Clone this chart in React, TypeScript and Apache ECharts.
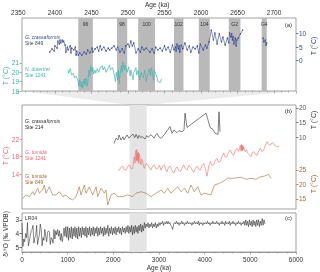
import React, { useEffect, useRef } from "react";
import * as echarts from "echarts";

// ---------- data ----------
const misLabels = ["96", "98", "100", "102", "104", "G2", "G4"];
const misStart = [2432, 2485, 2514, 2563, 2597, 2638, 2683];
const misEnd = [2452, 2499, 2537, 2576, 2612, 2654, 2690];

const zoomRange = [2355, 2730];

// Panel (a): G. crassaformis Site 849 (age ka, T °C)
const crass849 = [
  [2393, 3.1], [2396, 4.3], [2399, 3.5], [2400, 5.4], [2403, 4.6], [2404, 7.2], [2406, 6.1], [2407, 7.6],
  [2408, 6.5], [2410, 7.6], [2411, 6.9], [2412, 7.2], [2414, 5.7], [2415, 3.1], [2417, 5.0], [2418, 3.9],
  [2421, 5.4], [2422, 2.8], [2423, 4.6], [2426, 3.9], [2428, 5.0], [2429, 2.0], [2430, 3.5], [2432, 2.0],
  [2434, 2.8], [2437, 2.0], [2440, 3.1], [2443, 2.4], [2445, 3.9], [2448, 2.8], [2451, 4.6], [2452, 3.1],
  [2455, 4.3], [2458, 5.0], [2460, 3.5], [2462, 5.4], [2464, 3.9], [2467, 5.0], [2470, 3.5], [2473, 4.6],
  [2475, 3.9], [2478, 4.6], [2481, 5.4], [2484, 3.9], [2486, 5.0], [2489, 3.1], [2492, 4.3], [2495, 2.8],
  [2497, 5.4], [2500, 6.1], [2502, 5.0], [2504, 7.2], [2506, 5.4], [2508, 6.5], [2511, 2.8], [2514, 4.3],
  [2517, 3.1], [2519, 5.0], [2522, 3.9], [2525, 4.6], [2530, 3.1], [2533, 4.3], [2536, 2.8], [2538, 5.0],
  [2541, 3.9], [2544, 4.6], [2547, 3.5], [2550, 5.4], [2552, 3.9], [2555, 5.0], [2558, 3.1], [2561, 5.7],
  [2563, 3.9], [2565, 5.0], [2566, 3.5], [2567, 6.1], [2569, 4.3], [2570, 5.4], [2571, 3.1], [2573, 5.7],
  [2575, 4.3], [2578, 6.5], [2581, 3.9], [2584, 5.4], [2586, 3.1], [2589, 5.0], [2592, 4.3], [2595, 5.4],
  [2597, 2.8], [2599, 6.1], [2603, 3.9], [2606, 5.7], [2608, 4.6], [2611, 6.9], [2614, 11.3], [2617, 7.6],
  [2619, 10.2], [2622, 6.1], [2625, 9.9], [2628, 6.9], [2630, 8.7], [2633, 5.7], [2636, 8.3], [2638, 6.5],
  [2639, 10.2], [2641, 8.7], [2642, 9.9], [2643, 7.6], [2644, 8.9], [2645, 6.1], [2647, 8.3], [2648, 5.4],
  [2649, 7.6], [2651, 8.3], [2654, 9.9], [2657, 11.3], [2670, null], [2685, 8.3], [2686, 6.9], [2688, 7.6],
  [2689, 5.7], [2690, 6.5],
];

// Panel (a): N. dutertrei Site 1241
const dutertrei1241 = [
  [2418, 20.25], [2419, 19.9], [2421, 20.4], [2423, 19.7], [2425, 19.9], [2427, 19.4], [2429, 19.6],
  [2432, 19.0], [2433, 18.5], [2434, 19.2], [2436, 18.4], [2437, 19.0], [2438, 18.3], [2440, 19.3],
  [2441, 18.6], [2443, 19.4], [2444, 18.5], [2445, 18.9], [2447, 20.25], [2448, 19.6], [2449, 20.7],
  [2451, 20.0], [2452, 20.5], [2453, 19.8], [2455, 20.25], [2456, 19.9], [2458, 20.4], [2460, 20.0],
  [2462, 20.5], [2465, 20.7], [2466, 20.25], [2468, 20.6], [2470, 20.0], [2473, 20.5], [2475, 20.8],
  [2476, 20.25], [2479, 20.5], [2481, 19.8], [2483, 19.0], [2484, 20.0], [2486, 19.2], [2487, 20.25],
  [2488, 18.75], [2489, 19.7], [2491, 20.7], [2492, 20.0], [2493, 21.1], [2495, 20.25], [2496, 20.8],
  [2499, 20.0], [2501, 20.6], [2503, 19.6], [2504, 20.25], [2507, 19.2], [2508, 20.0], [2511, 20.5],
  [2512, 19.7], [2514, 20.25], [2516, 19.2], [2518, 20.0], [2521, 19.4], [2523, 20.25], [2525, 19.0],
  [2527, 19.8], [2529, 20.4], [2531, 19.6], [2532, 20.5], [2535, 19.2], [2536, 20.25], [2540, 19.4],
  [2541, 19.0], [2544, 18.9], [2546, 19.3],
];

// Panel (b): G. crassaformis Site 214
const crass214 = [
  [2015, 7.8], [2059, 9.6], [2102, 9.0], [2124, 10.7], [2168, 9.0], [2212, 10.1], [2234, 9.0], [2300, 10.7],
  [2343, 9.6], [2387, 10.4], [2431, 11.0], [2470, 9.8], [2497, 10.9], [2540, 9.5], [2562, 10.6], [2600, 9.8],
  [2628, 10.2], [2694, 9.3], [2730, 10.5], [2759, 9.9], [2825, 10.8], [2891, 9.6], [2930, 10.7], [2957, 11.2],
  [3000, 10.0], [3044, 9.55], [3110, 10.7], [3197, 12.6], [3241, 13.6], [3285, 11.3], [3329, 12.4],
  [3395, 11.5], [3438, 12.2], [3504, 11.8], [3548, 12.4], [3570, 18.2], [3614, 13.3], [4030, 18.2],
  [4073, 15.9], [4117, 13.3], [4183, 12.6], [4227, 11.3], [4292, 10.9], [4314, 18.7], [4336, 11.8],
  [4350, 11.8],
];

// Panel (b): G. tumida Site 1241
const tumida1241 = [
  [2102, 14.9], [2131, 14.9], [2170, 15.6], [2205, 15.8], [2240, 15.0], [2278, 14.9], [2315, 15.7],
  [2350, 16.1], [2390, 15.2], [2424, 15.3], [2445, 16.8], [2460, 18.0], [2475, 16.5], [2490, 19.2],
  [2497, 19.5], [2505, 17.2], [2512, 19.6], [2519, 16.9], [2526, 18.5], [2533, 18.8], [2540, 17.0],
  [2548, 19.0], [2555, 16.4], [2566, 18.6], [2577, 18.3], [2590, 16.8], [2606, 16.1], [2625, 17.4],
  [2643, 16.9], [2660, 15.8], [2679, 15.3], [2715, 16.4], [2752, 16.1], [2790, 15.4], [2825, 14.9],
  [2860, 15.8], [2898, 16.1], [2935, 15.2], [2971, 15.3], [3010, 16.0], [3044, 14.9], [3080, 15.8],
  [3117, 16.1], [3150, 15.0], [3176, 14.5], [3210, 15.6], [3248, 15.8], [3285, 14.8], [3322, 14.2],
  [3360, 15.2], [3395, 15.6], [3430, 14.9], [3467, 14.5], [3505, 15.4], [3540, 16.1], [3580, 15.2],
  [3614, 14.9], [3650, 16.0], [3687, 15.6], [3725, 15.0], [3760, 14.4], [3800, 15.4], [3833, 15.8],
  [3870, 15.1], [3905, 14.9], [3940, 15.9], [3979, 16.4], [4015, 15.2], [4052, 13.5], [4090, 15.8],
  [4124, 16.9], [4160, 16.0], [4198, 16.1], [4235, 17.2], [4271, 17.6], [4305, 16.7], [4343, 16.9],
  [4380, 18.0], [4417, 18.8], [4450, 17.9], [4490, 18.0], [4525, 19.0], [4562, 19.5], [4600, 18.6],
  [4636, 18.3], [4670, 19.4], [4709, 19.9], [4745, 19.2], [4781, 20.6], [4795, 19.2], [4805, 20.8],
  [4812, 19.5], [4818, 20.4], [4826, 19.3], [4835, 20.6], [4845, 19.6], [4855, 20.2], [4870, 19.4],
  [4891, 19.1], [4915, 19.6], [4943, 18.8], [4980, 18.4], [5015, 18.0], [5045, 18.9], [5074, 19.1],
  [5110, 18.5], [5146, 18.3], [5180, 19.2], [5219, 19.9], [5255, 19.1], [5293, 19.5], [5330, 20.6],
  [5366, 21.4], [5400, 20.8], [5438, 20.6], [5475, 21.2], [5512, 21.0], [5550, 20.4], [5585, 20.2],
  [5635, 20.4],
];

// Panel (b): G. tumida Site 849
const tumida849 = [
  [15, 15.2], [88, 16.4], [160, 15.8], [234, 17.5], [269, 16.4], [344, 18.7], [379, 17.0], [453, 18.1],
  [488, 19.8], [526, 17.0], [598, 19.2], [672, 16.4], [745, 16.4], [817, 17.5], [891, 15.8], [964, 16.4],
  [1036, 15.2], [1110, 14.7], [1183, 15.8], [1255, 19.2], [1292, 16.4], [1364, 19.8], [1402, 17.0],
  [1474, 19.2], [1548, 16.4], [1621, 19.2], [1658, 15.8], [1730, 18.7], [1802, 17.0], [1840, 18.1],
  [1877, 12.9], [1949, 16.4], [2021, 17.0], [2096, 15.8], [2205, 15.8], [2315, 16.4], [2424, 15.8],
  [2497, 17.0], [2606, 17.5], [2716, 17.0], [2825, 15.8], [2935, 17.0], [3044, 18.1], [3116, 17.0],
  [3191, 18.7], [3263, 17.0], [3335, 18.1], [3410, 19.2], [3482, 17.5], [3554, 18.7], [3629, 17.0],
  [3701, 19.8], [3773, 17.5], [3848, 19.2], [3920, 16.4], [3992, 17.0], [4139, 16.4], [4211, 19.8],
  [4321, 20.4], [4402, 21.0], [4505, 22.2], [4614, 22.1], [4796, 22.5], [4906, 21.8], [5015, 22.1],
  [5125, 21.8], [5197, 22.5], [5306, 22.9], [5394, 23.5], [5453, 22.1],
];

// Panel (c): LR04 benthic d18O, sampled every 20 ka from 0 ka
const lr04Start = 0;
const lr04Step = 20;
const lr04Values = [
  3.23, 4.95, 4.4, 4.6, 4.0, 4.3, 3.2, 4.9, 4.6, 4.2,
  3.8, 3.7, 3.4, 4.7, 4.3, 4.2, 3.4, 4.8, 4.4, 4.1,
  3.3, 3.7, 4.9, 4.3, 4.5, 3.7, 4.2, 4.6, 3.9, 3.8,
  3.9, 4.8, 4.3, 4.4, 4.7, 3.7, 4.4, 3.8, 4.1, 3.7,
  4.2, 3.8, 4.5, 4.0, 4.6, 4.2, 3.6, 4.2, 3.5, 4.3,
  3.5, 4.5, 3.6, 4.3, 3.5, 4.4, 3.6, 4.2, 3.5, 4.3,
  3.6, 4.4, 3.5, 4.2, 3.6, 4.3, 3.5, 4.1, 3.6, 4.2,
  3.5, 4.3, 3.6, 4.1, 3.5, 4.2, 3.6, 4.1, 3.5, 4.2,
  3.6, 4.0, 3.5, 4.2, 3.6, 4.1, 3.5, 4.0, 3.6, 4.2,
  3.5, 4.1, 3.6, 4.0, 3.4, 4.2, 3.6, 4.0, 3.5, 4.1,
  3.6, 4.0, 3.5, 4.1, 3.6, 3.9, 3.5, 4.0, 3.6, 4.1,
  3.5, 3.9, 3.6, 4.0, 3.5, 3.9, 3.4, 4.0, 3.5, 3.9,
  3.4, 4.1, 3.5, 4.0, 3.4, 3.9, 3.5, 4.0, 3.4, 3.8,
  3.3, 3.9, 3.4, 3.8, 3.2, 3.6, 3.3, 3.5, 3.2, 3.6,
  3.3, 3.5, 3.2, 3.6, 3.3, 3.5, 3.2, 3.6, 3.3, 3.5,
  3.2, 3.4, 3.2, 3.3, 3.1, 3.4, 3.2, 3.3, 3.1, 3.3,
  3.1, 3.3, 3.2, 3.4, 3.5, 3.7, 3.3, 3.2, 3.3, 3.1,
  3.3, 3.2, 3.4, 3.2, 3.3, 3.1, 3.3, 3.2, 3.4, 3.2,
  3.3, 3.1, 3.3, 3.2, 3.3, 3.2, 3.4, 3.2, 3.3, 3.1,
  3.3, 3.2, 3.3, 3.1, 3.4, 3.2, 3.3, 3.2, 3.4, 3.2,
  3.3, 3.2, 3.3, 3.1, 3.3, 3.2, 3.4, 3.2, 3.3, 3.1,
  3.3, 3.2, 3.3, 3.1, 3.3, 3.2, 3.4, 3.2, 3.3, 3.1,
  3.3, 3.2, 3.4, 3.1, 3.3, 3.2, 3.3, 3.1, 3.4, 3.2,
  3.3, 3.1, 3.3, 3.2, 3.4, 3.2, 3.3, 3.1, 3.3, 3.2,
  3.4, 3.2, 3.3, 3.1, 3.4, 3.0, 3.4, 3.1, 3.5, 3.0,
  3.4, 3.1, 3.5, 3.0, 3.4, 3.1, 3.5, 3.0, 3.4, 3.0,
  3.5, 3.1, 3.4, 2.9, 3.4, 3.0, 3.3,
];

// tick labels
const topTicksMin = 2350;
const bottomTicks = [0, 6000];
const tealTicks = [18, 19, 20, 21];
const blueTicks = [0, 5, 10];
const redTicks = [14, 18, 22];
const blackTicks = [10, 15, 20];
const brownTicks = [15, 20, 25];
const lrTicks = [3, 4, 5];

// ---------- styles ----------
const C = {
  blue: "#34479a",
  teal: "#3db5ab",
  red: "#f06a6a",
  black: "#2a2a2a",
  brown: "#a8692e",
  frame: "#8a8a8a",
  text: "#333",
};
const FONT = "Liberation Sans, Arial, sans-serif";
const plain = (v: number) => String(v);

function yAx(gridIndex: number, min: number, max: number, pos: string, ticks: number[], color: string, extra: any = {}) {
  return {
    gridIndex, type: "value", min, max, position: pos,
    axisLine: { show: false },
    axisTick: { show: true, customValues: ticks, length: 2.5, lineStyle: { color, width: 0.7 } },
    axisLabel: { customValues: ticks, color, fontSize: 6.5, margin: 3, fontFamily: FONT, formatter: plain },
    splitLine: { show: false },
    ...extra,
  };
}

export default function App() {
  const ref = useRef<HTMLDivElement>(null);
  useEffect(() => {
    const el = ref.current;
    if (!el) return;
    const chart = echarts.init(el, null, { renderer: "svg" });

    const lr04 = lr04Values.map((v, i) => [lr04Start + i * lr04Step, v]);

    const gridBase = { show: true, borderColor: C.frame, borderWidth: 0.8, backgroundColor: "transparent" };
    const option: any = {
      animation: false,
      textStyle: { fontFamily: FONT },
      grid: [
        { ...gridBase, left: 22, right: 24, top: 18, height: 73 },
        { ...gridBase, left: 22, right: 24, top: 105, height: 104 },
        { ...gridBase, left: 22, right: 24, top: 213, height: 41 },
        { show: false, left: 18.35, right: 24, top: 18, height: 73 },
      ],
      xAxis: [
        { gridIndex: 0, type: "value", min: zoomRange[0], max: zoomRange[1], show: false },
        { gridIndex: 1, type: "value", min: bottomTicks[0], max: bottomTicks[1], show: false },
        {
          gridIndex: 2, type: "value", min: bottomTicks[0], max: bottomTicks[1], interval: 1000, position: "bottom",
          axisLine: { show: true, lineStyle: { color: C.frame, width: 0.8 } },
          axisTick: { show: true, length: 2.5, lineStyle: { color: C.frame, width: 0.7 } },
          minorTick: { show: true, splitNumber: 5, length: 1.5, lineStyle: { color: C.frame, width: 0.6 } },
          axisLabel: { fontSize: 6.5, color: C.text, margin: 4, formatter: plain },
          splitLine: { show: false },
          name: "Age (ka)", nameLocation: "middle", nameGap: 12,
          nameTextStyle: { fontSize: 6.5, color: C.text },
        },
        {
          gridIndex: 3, type: "value", min: topTicksMin, max: zoomRange[1], interval: 50, position: "top",
          axisLine: { show: false },
          axisTick: { show: true, inside: true, length: 2.5, lineStyle: { color: C.frame, width: 0.7 } },
          minorTick: { show: true, splitNumber: 5, length: 1.5, lineStyle: { color: C.frame, width: 0.6 } },
          axisLabel: { fontSize: 6.5, color: C.text, margin: 4, showMaxLabel: false, formatter: plain },
          splitLine: { show: false },
          name: "Age (ka)", nameLocation: "middle", nameGap: 12,
          nameTextStyle: { fontSize: 6.5, color: C.text },
        },
      ],
      yAxis: [
        yAx(0, 18, 25.82, "left", tealTicks, C.teal),
        yAx(0, -11.3, 15.75, "right", blueTicks, C.blue),
        yAx(1, 6, 29.8, "left", redTicks, C.red),
        yAx(1, -14.8, 21.03, "right", blackTicks, "#555"),
        yAx(1, 11.55, 47.4, "right", brownTicks, C.brown),
        yAx(2, 2.5, 5.35, "left", lrTicks, C.text, { inverse: true }),
        { gridIndex: 3, type: "value", show: false, min: 0, max: 1 },
      ],
      series: [
        {
          type: "line", xAxisIndex: 0, yAxisIndex: 0, data: [], z: 1, silent: true,
          markArea: {
            silent: true,
            itemStyle: { color: "#b9b9b9" },
            label: { show: true, position: "insideTop", distance: 3, fontSize: 5, color: C.text },
            data: misStart.map((s, i) => [{ name: misLabels[i], xAxis: s }, { xAxis: misEnd[i] }]),
          },
        },
        {
          type: "line", xAxisIndex: 0, yAxisIndex: 0, data: dutertrei1241, z: 3, silent: true,
          showSymbol: false, lineStyle: { color: C.teal, width: 0.7 },
        },
        {
          type: "line", xAxisIndex: 0, yAxisIndex: 1, data: crass849, z: 3, silent: true,
          symbol: "circle", symbolSize: 1.4, showSymbol: true,
          itemStyle: { color: C.blue }, lineStyle: { color: C.blue, width: 0.6 },
        },
        {
          type: "line", xAxisIndex: 1, yAxisIndex: 2, data: [], z: 1, silent: true,
          markArea: { silent: true, itemStyle: { color: "#e4e4e4" }, data: [[{ xAxis: zoomRange[0] }, { xAxis: zoomRange[1] }]] },
        },
        {
          type: "line", xAxisIndex: 1, yAxisIndex: 3, data: crass214, z: 3, silent: true,
          showSymbol: false, lineStyle: { color: C.black, width: 0.6 },
        },
        {
          type: "line", xAxisIndex: 1, yAxisIndex: 2, data: tumida1241, z: 3, silent: true,
          showSymbol: false, lineStyle: { color: C.red, width: 0.6 },
        },
        {
          type: "line", xAxisIndex: 1, yAxisIndex: 4, data: tumida849, z: 3, silent: true,
          showSymbol: false, lineStyle: { color: C.brown, width: 0.6 },
        },
        {
          type: "line", xAxisIndex: 2, yAxisIndex: 5, data: [], z: 1, silent: true,
          markArea: { silent: true, itemStyle: { color: "#e4e4e4" }, data: [[{ xAxis: zoomRange[0] }, { xAxis: zoomRange[1] }]] },
        },
        {
          type: "line", xAxisIndex: 2, yAxisIndex: 5, data: lr04, z: 3, silent: true,
          showSymbol: false, lineStyle: { color: "#111", width: 0.5 },
        },
      ],
    };
    chart.setOption(option);

    const px = (finder: any, v: number) => chart.convertToPixel(finder, v) as unknown as number;
    const xa0 = px({ xAxisIndex: 0 }, zoomRange[0]);
    const xa1 = px({ xAxisIndex: 0 }, zoomRange[1]);
    const xb0 = px({ xAxisIndex: 1 }, zoomRange[0]);
    const xb1 = px({ xAxisIndex: 1 }, zoomRange[1]);
    const yA = px({ yAxisIndex: 0 }, 18);
    const yB = px({ yAxisIndex: 2 }, 29.8);

    const label = (id: string, x: number, y: number, text: string, fill: string, italic = false, size = 5) => ({
      id, type: "text", x, y, silent: true, z: 10,
      style: { text, fill, fontSize: size, fontFamily: FONT, fontStyle: italic ? "italic" : "normal", align: "left", verticalAlign: "top" },
    });
    const vname = (id: string, x: number, y: number, text: string, fill: string, size = 7) => ({
      id, type: "text", x, y, rotation: Math.PI / 2, silent: true, z: 10,
      style: { text, fill, fontSize: size, fontFamily: FONT, align: "center", verticalAlign: "middle" },
    });
    const tag = (id: string, y: number, text: string) => ({
      id, type: "text", x: 292, y, silent: true, z: 10,
      style: { text, fill: C.text, fontSize: 6, fontFamily: FONT, align: "right", verticalAlign: "top" },
    });

    chart.setOption({
      graphic: [
        {
          id: "trap", type: "polygon", silent: true, z: -1,
          shape: { points: [[xa0, yA], [xa1, yA], [xb1, yB], [xb0, yB]] },
          style: { fill: "#ececec", stroke: "none" },
        },
        label("a1", 25, 34, "G. crassaformis", C.blue, true),
        label("a2", 25, 40, "Site 849", C.blue),
        label("a3", 25, 66, "N. dutertrei", C.teal, true),
        label("a4", 25, 72, "Site 1241", C.teal),
        tag("ta", 22, "(a)"),
        label("b1", 25, 118, "G. crassaformis", C.black, true),
        label("b2", 25, 124, "Site 214", C.black),
        label("b3", 25, 149, "G. tumida", C.red, true),
        label("b4", 25, 155, "Site 1241", C.red),
        label("b5", 25, 173, "G. tumida", C.brown, true),
        label("b6", 25, 179, "Site 849", C.brown),
        tag("tb", 108, "(b)"),
        label("c1", 25, 215, "LR04", C.text),
        tag("tc", 215, "(c)"),
        vname("n1", 5, 76, "T (°C)", C.teal),
        vname("n2", 313, 46, "T (°C)", C.blue),
        vname("n3", 5, 156, "T (°C)", C.red),
        vname("n4", 313, 120, "T (°C)", "#444"),
        vname("n5", 313, 184, "T (°C)", C.brown),
        vname("n6", 5, 234, "δ¹⁸O (‰ VPDB)", C.text, 6.5),
      ],
    });

    return () => chart.dispose();
  }, []);

  return <div ref={ref} style={{ position: "fixed", left: 0, top: 0, width: 320, height: 272 }} />;
}
